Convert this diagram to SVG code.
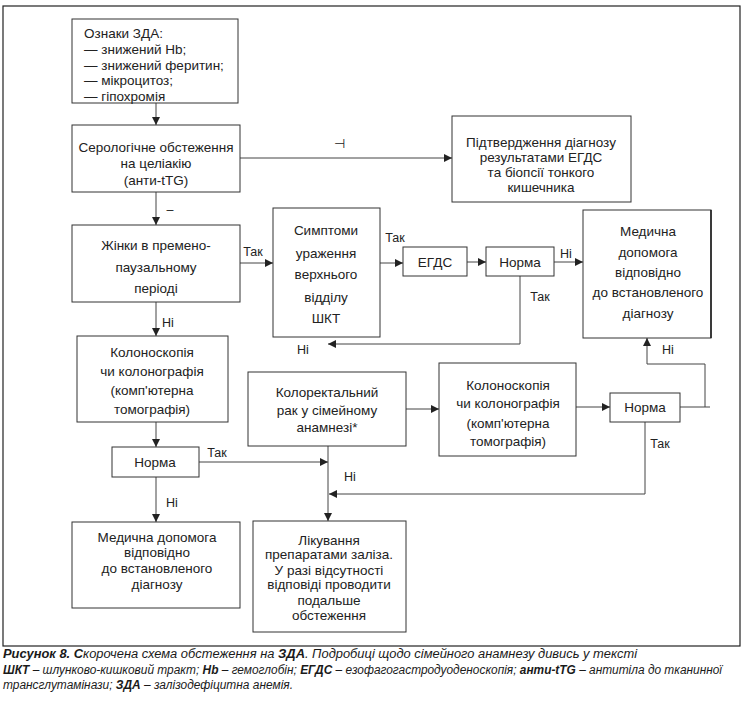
<svg xmlns="http://www.w3.org/2000/svg" width="744" height="702" viewBox="0 0 744 702">
<defs>
<marker id="ah" viewBox="0 0 10 10" refX="10" refY="5" markerWidth="8" markerHeight="8" markerUnits="userSpaceOnUse" orient="auto">
<path d="M0,0 L10,5 L0,10 z" fill="#222"/>
</marker>
<style>
.box{fill:#fff;stroke:#333;stroke-width:1}
.t{font-family:"Liberation Sans",Arial,sans-serif;font-size:13.5px;fill:#222;text-anchor:middle}
.tl{font-family:"Liberation Sans",Arial,sans-serif;font-size:13.5px;fill:#222}
.lb{font-family:"Liberation Sans",Arial,sans-serif;font-size:12.5px;fill:#222;text-anchor:middle}
.c{fill:none;stroke:#444;stroke-width:1}
.a{marker-end:url(#ah)}
.cap{font-family:"Liberation Sans",Arial,sans-serif;font-size:12px;font-style:italic;fill:#1a1a1a}
.b{font-weight:bold}
</style>
</defs>
<rect x="3" y="6" width="737" height="640" fill="#fff" stroke="#222" stroke-width="1.2"/>

<g id="connectors">
<path class="c a" d="M156,103 V125"/>
<path class="c a" d="M240,158 H452"/>
<path class="c a" d="M156,192 V225"/>
<path class="c a" d="M240,263 H273"/>
<path class="c a" d="M380,263 H403"/>
<path class="c a" d="M467,262 H486"/>
<path class="c a" d="M554,262 H583"/>
<path class="c a" d="M520,276 V344 H328"/>
<path class="c a" d="M156,302 V336"/>
<path class="c a" d="M156,422 V447"/>
<path class="c a" d="M199,462 H328"/>
<path class="c a" d="M156,477 V522"/>
<path class="c a" d="M406,409 H439"/>
<path class="c a" d="M576,407 H610"/>
<path class="c" d="M680,407 H710"/>
<path class="c a" d="M705,407 V364 H647 V338"/>
<path class="c a" d="M645,422 V494 H329"/>
<path class="c a" d="M328,446 V521"/>
<text class="lb" x="339" y="148">⊣</text>
<text class="lb" x="170" y="214">–</text>
<text class="lb" x="253" y="256">Так</text>
<text class="lb" x="395" y="242">Так</text>
<text class="lb" x="566" y="258">Ні</text>
<text class="lb" x="540" y="301">Так</text>
<text class="lb" x="303" y="354">Ні</text>
<text class="lb" x="668" y="354">Ні</text>
<text class="lb" x="168" y="327">Ні</text>
<text class="lb" x="217" y="457">Так</text>
<text class="lb" x="172" y="507">Ні</text>
<text class="lb" x="660" y="448">Так</text>
<text class="lb" x="350" y="481">Ні</text>
</g>

<g id="n1">
<rect class="box" x="72" y="19" width="166" height="84"/>
<text class="tl" x="84" y="38">Ознаки ЗДА:</text>
<text class="tl" x="84" y="54">— знижений Hb;</text>
<text class="tl" x="84" y="70">— знижений феритин;</text>
<text class="tl" x="84" y="85">— мікроцитоз;</text>
<text class="tl" x="84" y="101">— гіпохромія</text>
</g>

<g id="n2">
<rect class="box" x="72" y="125" width="168" height="67"/>
<text class="t" x="156" y="152">Серологічне обстеження</text>
<text class="t" x="156" y="168">на целіакію</text>
<text class="t" x="156" y="185">(анти-tTG)</text>
</g>

<g id="n3">
<rect class="box" x="452" y="116" width="179" height="86"/>
<text class="t" x="541" y="147">Підтвердження діагнозу</text>
<text class="t" x="541" y="162">результатами ЕГДС</text>
<text class="t" x="541" y="177">та біопсії тонкого</text>
<text class="t" x="541" y="192">кишечника</text>
</g>

<g id="n4">
<rect class="box" x="72" y="225" width="168" height="77"/>
<text class="t" x="156" y="250">Жінки в премено-</text>
<text class="t" x="156" y="272">паузальному</text>
<text class="t" x="156" y="293">періоді</text>
</g>

<g id="n5">
<rect class="box" x="273" y="208" width="107" height="129"/>
<text class="t" x="326" y="235">Симптоми</text>
<text class="t" x="326" y="258">ураження</text>
<text class="t" x="326" y="279">верхнього</text>
<text class="t" x="326" y="302">відділу</text>
<text class="t" x="326" y="323">ШКТ</text>
</g>

<g id="n6">
<rect class="box" x="403" y="247" width="64" height="29"/>
<text class="t" x="435" y="267">ЕГДС</text>
</g>

<g id="n7">
<rect class="box" x="486" y="247" width="68" height="29"/>
<text class="t" x="520" y="267">Норма</text>
</g>

<g id="n8">
<rect class="box" x="583" y="210" width="128" height="128"/>
<path d="M711,210 V338" stroke="#222" stroke-width="1.6"/>
<text class="t" x="648" y="236">Медична</text>
<text class="t" x="648" y="257">допомога</text>
<text class="t" x="648" y="277">відповідно</text>
<text class="t" x="648" y="297">до встановленого</text>
<text class="t" x="648" y="318">діагнозу</text>
</g>

<g id="n9">
<rect class="box" x="77" y="336" width="151" height="86"/>
<text class="t" x="152" y="357">Колоноскопія</text>
<text class="t" x="152" y="376">чи колонографія</text>
<text class="t" x="152" y="395">(комп'ютерна</text>
<text class="t" x="152" y="414">томографія)</text>
</g>

<g id="n10">
<rect class="box" x="112" y="447" width="87" height="30"/>
<text class="t" x="155" y="467">Норма</text>
</g>

<g id="n11">
<rect class="box" x="72" y="522" width="168" height="86"/>
<text class="t" x="157" y="542">Медична допомога</text>
<text class="t" x="157" y="557">відповідно</text>
<text class="t" x="157" y="573">до встановленого</text>
<text class="t" x="157" y="589">діагнозу</text>
</g>

<g id="n12">
<rect class="box" x="248" y="372" width="158" height="74"/>
<text class="t" x="327" y="397">Колоректальний</text>
<text class="t" x="327" y="415">рак у сімейному</text>
<text class="t" x="327" y="432">анамнезі*</text>
</g>

<g id="n13">
<rect class="box" x="439" y="363" width="137" height="93"/>
<text class="t" x="508" y="390">Колоноскопія</text>
<text class="t" x="508" y="408">чи колонографія</text>
<text class="t" x="508" y="428">(комп'ютерна</text>
<text class="t" x="508" y="446">томографія)</text>
</g>

<g id="n14">
<rect class="box" x="610" y="393" width="70" height="29"/>
<text class="t" x="645" y="412">Норма</text>
</g>

<g id="n15">
<rect class="box" x="253" y="521" width="153" height="111"/>
<text class="t" x="329" y="545">Лікування</text>
<text class="t" x="329" y="559">препаратами заліза.</text>
<text class="t" x="329" y="575">У разі відсутності</text>
<text class="t" x="329" y="589">відповіді проводити</text>
<text class="t" x="329" y="605">подальше</text>
<text class="t" x="329" y="620">обстеження</text>
</g>

<g id="caption">
<text class="cap" x="3" y="658" textLength="634" lengthAdjust="spacingAndGlyphs"><tspan class="b">Рисунок 8. С</tspan>корочена схема обстеження на <tspan class="b">ЗДА</tspan>. Подробиці щодо сімейного анамнезу дивись у тексті</text>
<text class="cap" x="3" y="674" textLength="719" lengthAdjust="spacingAndGlyphs"><tspan class="b">ШКТ</tspan> – шлунково-кишковий тракт; <tspan class="b">Hb</tspan> – гемоглобін; <tspan class="b">ЕГДС</tspan> – езофагогастродуоденоскопія; <tspan class="b">анти-tTG</tspan> – антитіла до тканинної</text>
<text class="cap" x="3" y="689" textLength="290" lengthAdjust="spacingAndGlyphs">трансглутамінази; <tspan class="b">ЗДА</tspan> – залізодефіцитна анемія.</text>
</g>
</svg>
